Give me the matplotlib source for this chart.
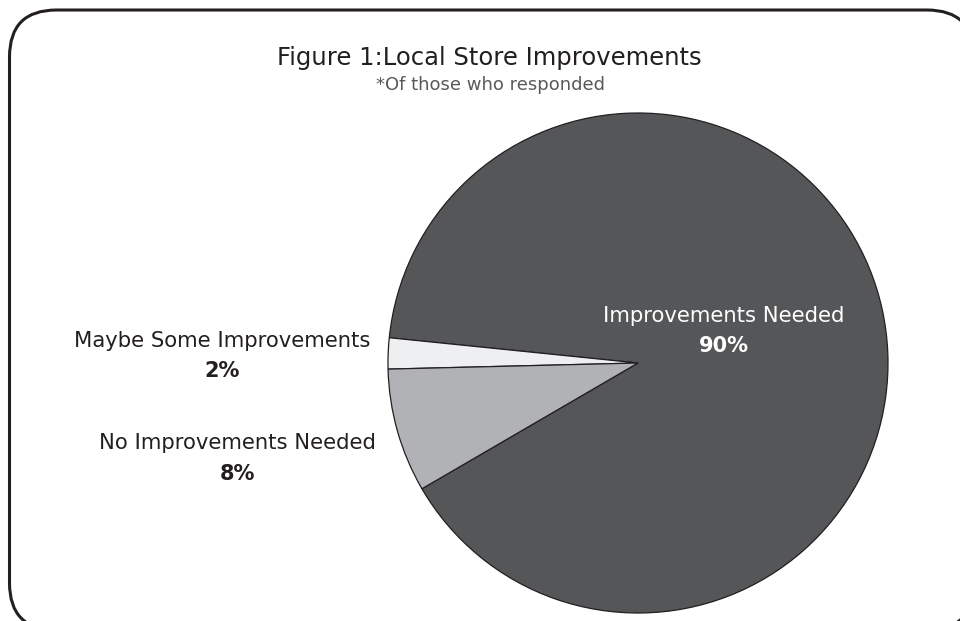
import matplotlib
matplotlib.use("Agg")
import matplotlib.pyplot as plt
from matplotlib.patches import FancyBboxPatch

# Survey results
categories = ["Improvements Needed", "Maybe Some Improvements", "No Improvements Needed"]
shares = [90, 2, 8]
slice_colors = ["#555658", "#eeeff0", "#b1b2b5"]
title = "Figure 1:Local Store Improvements"
subtitle = "*Of those who responded"

W, H = 960, 621
fig = plt.figure(figsize=(W / 100, H / 100), dpi=100)
ax = fig.add_axes([0, 0, 1, 1])

font = "DejaVu Sans"

# Rounded frame around the chart (extends slightly past the right and bottom edges)
frame = FancyBboxPatch((9.5, H - 630), 974 - 9.5, 620,
                       boxstyle="round,pad=0,rounding_size=47",
                       facecolor="white", edgecolor="#231f20", linewidth=2.2,
                       clip_on=False, zorder=0)
ax.add_patch(frame)

cx, cy, r = 638, H - 363, 250
ax.pie(shares, colors=slice_colors, startangle=210.2,
       counterclock=True, center=(cx, cy), radius=r,
       wedgeprops=dict(edgecolor="#231f20", linewidth=0.9),
       frame=True)
ax.set_xlim(0, W)
ax.set_ylim(0, H)
ax.set_aspect("equal")
ax.axis("off")

ax.text(489, H - 65, title, ha="center", va="baseline", fontsize=17.5,
        family=font, color="#231f20")
ax.text(490, H - 90, subtitle, ha="center", va="baseline", fontsize=13,
        family=font, color="#58595b")

# label centre x, name baseline, percent baseline, colour
label_pos = {
    "Improvements Needed": (724, 322, 352, "white"),
    "Maybe Some Improvements": (222, 347, 377, "#231f20"),
    "No Improvements Needed": (237, 449, 480, "#231f20"),
}
for name, val in zip(categories, shares):
    x, y1, y2, col = label_pos[name]
    ax.text(x, H - y1, name, ha="center", va="baseline", fontsize=15.2,
            family=font, color=col)
    ax.text(x, H - y2, f"{val}%", ha="center", va="baseline", fontsize=15,
            family=font, weight="bold", color=col)

fig.savefig("out.png", dpi=100)
